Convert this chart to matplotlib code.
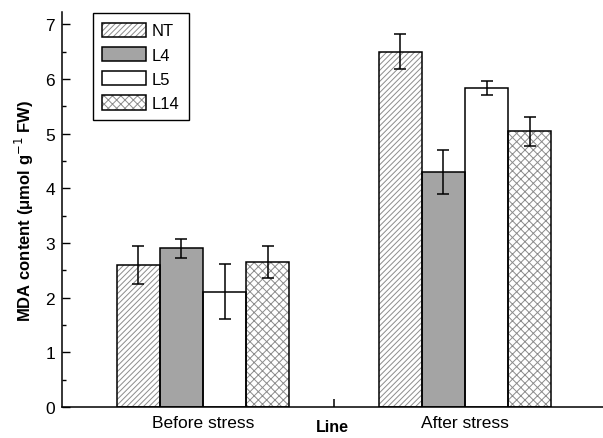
"""MDA content of NT and transgenic lines before/after stress"""

import numpy as np
import matplotlib
matplotlib.use('Agg')
import matplotlib.pyplot as plt
from matplotlib.patches import Patch
from matplotlib.ticker import MultipleLocator

plt.rcParams['font.family'] = ['Liberation Sans', 'DejaVu Sans']
plt.rcParams['hatch.linewidth'] = 0.7

# данные
groups = ['Before stress', 'After stress']
lines = ['NT', 'L4', 'L5', 'L14']
nt_mean = [2.60, 6.50]
nt_err = [0.35, 0.32]
l4_mean = [2.90, 4.30]
l4_err = [0.18, 0.40]
l5_mean = [2.11, 5.83]
l5_err = [0.50, 0.13]
l14_mean = [2.65, 5.04]
l14_err = [0.30, 0.27]

means = [nt_mean, l4_mean, l5_mean, l14_mean]
errs = [nt_err, l4_err, l5_err, l14_err]
faces = ['white', '#a4a4a4', 'white', 'white']
hatches = ['//////', '', '', 'xxxx']
HATCH_COLOR = '#8c8c8c'

fig = plt.figure(figsize=(6.03, 4.39), dpi=100)
ax = fig.add_axes([0.103, 0.0706, 0.897, 0.8994])

x = np.array([1.0, 2.0])
width = 0.165
handles = []
for i, (m, e) in enumerate(zip(means, errs)):
    pos = x + (i - 1.5) * width
    # штриховка отдельным слоем, чтобы она была серой
    ax.bar(pos, m, width, color=faces[i], hatch=hatches[i],
           edgecolor=HATCH_COLOR, linewidth=0, zorder=2)
    ax.bar(pos, m, width, fill=False, edgecolor='black',
           linewidth=1.1, zorder=2.5)
    ax.errorbar(pos, m, yerr=e, fmt='none', ecolor='black',
                elinewidth=1.1, capsize=4, capthick=1.1, zorder=3)
    # маркер легенды: штриховка + чёрная рамка поверх
    handles.append((Patch(facecolor=faces[i], hatch=hatches[i],
                          edgecolor=HATCH_COLOR, linewidth=0),
                    Patch(fill=False, edgecolor='black', linewidth=1.1)))

ax.set_xlim(0.462, 2.527)
ax.set_ylim(0, 7.22)
ax.set_xticks(x)
ax.set_xticklabels(groups, fontsize=12.5)
ax.set_xticks([1.5], minor=True)
ax.tick_params(axis='x', which='major', length=0, pad=6)
ax.tick_params(axis='x', which='minor', direction='in', length=6, width=1.1)
ax.yaxis.set_major_locator(MultipleLocator(1))
ax.yaxis.set_minor_locator(MultipleLocator(0.5))
ax.tick_params(axis='y', which='major', direction='in', length=6,
               width=1, labelsize=12.5, pad=5)
ax.tick_params(axis='y', which='minor', direction='in', length=3, width=1)

for side in ['top', 'right']:
    ax.spines[side].set_visible(False)
for side in ['left', 'bottom']:
    ax.spines[side].set_linewidth(1.1)

ax.set_ylabel('MDA content (μmol g$^{-1}$ FW)', fontsize=12,
              fontweight='bold', labelpad=7)
ax.set_xlabel('Line', fontsize=11.5, fontweight='bold', labelpad=-8)

leg = ax.legend(handles, lines, loc='upper left',
                bbox_to_anchor=(0.057, 0.997), borderaxespad=0,
                fontsize=12, fancybox=False, edgecolor='black',
                framealpha=1, handlelength=2.65, handleheight=0.95,
                labelspacing=0.5, handletextpad=0.35, borderpad=0.55)
leg.get_frame().set_linewidth(1.0)

fig.savefig('out.png', dpi=100)
